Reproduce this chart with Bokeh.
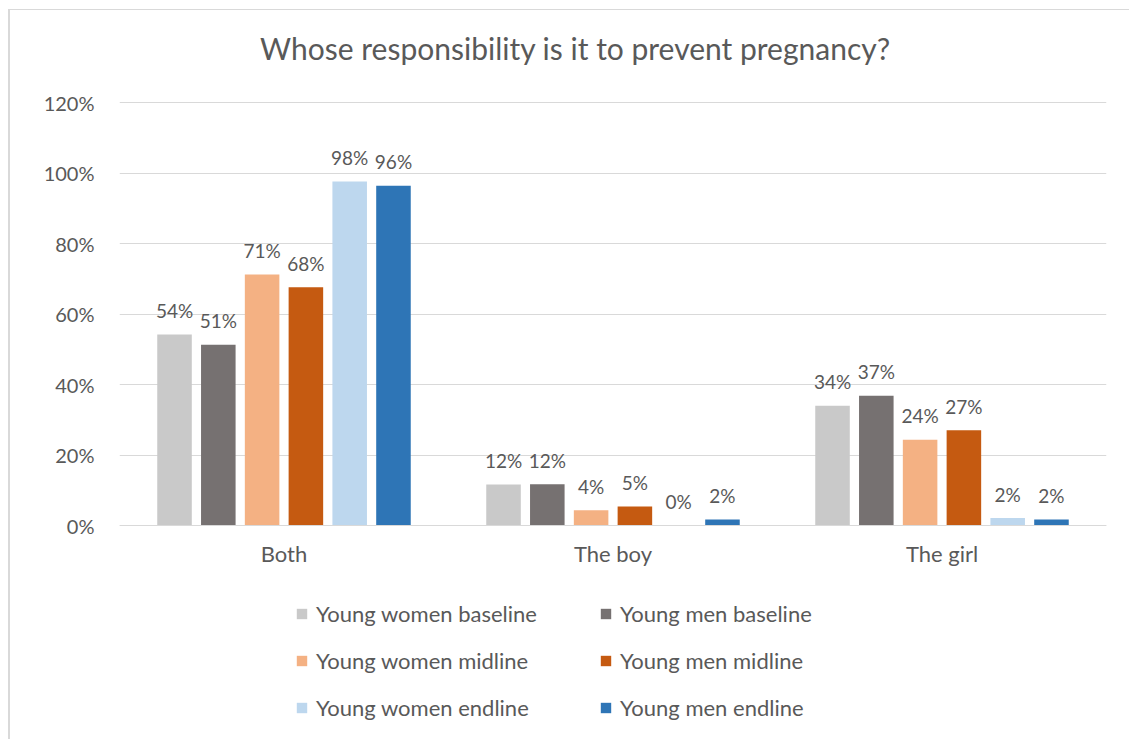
from bokeh.plotting import figure
from bokeh.models import (ColumnDataSource, FactorRange, Range1d, Legend, LegendItem,
                          NumeralTickFormatter, FixedTicker, Label)
from bokeh.transform import dodge
from bokeh.core.properties import value
from bokeh.embed import file_html
from bokeh.resources import INLINE

# Survey answers: share of respondents choosing each option
categories = ["Both", "The boy", "The girl"]
series_names = [
    "Young women baseline", "Young men baseline",
    "Young women midline", "Young men midline",
    "Young women endline", "Young men endline",
]
yw_baseline = [0.542, 0.116, 0.340]
ym_baseline = [0.513, 0.117, 0.368]
yw_midline = [0.712, 0.043, 0.243]
ym_midline = [0.676, 0.054, 0.270]
yw_endline = [0.976, 0.000, 0.021]
ym_endline = [0.964, 0.017, 0.017]
y_ticks = [0, 0.2, 0.4, 0.6, 0.8, 1.0, 1.2]
title_text = "Whose responsibility is it to prevent pregnancy?"

series_values = [yw_baseline, ym_baseline, yw_midline, ym_midline, yw_endline, ym_endline]
colors = ["#C9C9C9", "#767171", "#F4B183", "#C55A11", "#BDD7EE", "#2E75B6"]

FONT = "Lato"
TEXT = "#595959"
GRID = "#D9D9D9"

# Canvas geometry (pixels): the frame fills the canvas height so that the
# title and the legend can sit inside it; the value axis is mapped so that
# 0 % and 120 % land on the plotting band.
W, H = 1121, 730
LEFT, RIGHT = 109, 25
ZERO_PX = 515          # distance of the 0 % line from the canvas top
PX_PER_UNIT = 352.5    # pixels per 100 %
CAT_PX = (W - LEFT - RIGHT) / len(categories)

y_start = -(H - ZERO_PX) / PX_PER_UNIT
y_end = ZERO_PX / PX_PER_UNIT

p = figure(
    x_range=FactorRange(factors=categories),
    y_range=Range1d(y_start, y_end),
    width=W, height=H,
    output_backend="svg", toolbar_location=None,
    min_border_left=LEFT, min_border_right=RIGHT,
    min_border_top=0, min_border_bottom=0,
)
p.margin = (9, 0, 0, 8)
p.styles = {"border-top": f"1px solid {GRID}", "border-left": f"2px solid {GRID}"}

p.outline_line_color = None
p.xgrid.grid_line_color = None
p.ygrid.grid_line_color = GRID
p.ygrid.grid_line_width = 1

p.yaxis.ticker = FixedTicker(ticks=y_ticks)
p.yaxis.formatter = NumeralTickFormatter(format="0%")
p.yaxis.axis_line_color = None
p.yaxis.major_tick_line_color = None
p.yaxis.minor_tick_line_color = None
p.yaxis.major_label_standoff = 19
p.yaxis.major_label_text_font = FONT
p.yaxis.major_label_text_font_size = "20px"
p.yaxis.major_label_text_color = TEXT

p.xaxis.fixed_location = 0
p.xaxis.axis_line_color = GRID
p.xaxis.axis_line_width = 1
p.xaxis.major_tick_line_color = None
p.xaxis.minor_tick_line_color = None
p.xaxis.major_label_standoff = 8
p.xaxis.major_label_text_font = FONT
p.xaxis.major_label_text_font_size = "22px"
p.xaxis.major_label_text_color = TEXT

# Title, centred a little left of the plotting band
p.add_layout(Label(
    x=(574 - (LEFT + 9)) / CAT_PX, y=(ZERO_PX - 37.5) / PX_PER_UNIT,
    text=title_text, text_align="center", text_baseline="middle",
    text_font=FONT, text_font_size="30px", text_color=TEXT,
))

step = 0.1331
bar_w = 0.105
n = len(series_names)

renderers = []
for i, (name, vals, col) in enumerate(zip(series_names, series_values, colors)):
    off = (i - (n - 1) / 2) * step
    src = ColumnDataSource(dict(
        cat=categories,
        val=vals,
        lab=[f"{v * 100:.0f}%" for v in vals],
    ))
    r = p.vbar(x=dodge("cat", off, range=p.x_range), top="val", width=bar_w,
               source=src, fill_color=col, line_color=None)
    p.text(x=dodge("cat", off, range=p.x_range), y="val", text="lab", source=src,
           text_align="center", text_baseline="middle", y_offset=-24,
           text_font=value(FONT), text_font_size="19px", text_color=TEXT)
    renderers.append(r)

legend = Legend(
    items=[LegendItem(label=nm, renderers=[r]) for nm, r in zip(series_names, renderers)],
    location=(176, 19), orientation="horizontal", ncols=2,
    glyph_width=13, glyph_height=13, label_height=28, label_width=264, spacing=19,
    label_standoff=8, padding=0, margin=0,
    border_line_color=None, background_fill_alpha=0,
    label_text_font=FONT, label_text_font_size="22px", label_text_color=TEXT,
)
p.add_layout(legend)

open("out.html", "w").write(file_html(p, INLINE))
